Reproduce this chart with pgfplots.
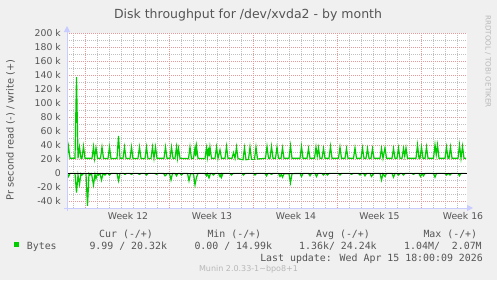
\documentclass[border=0pt]{standalone}
\usepackage{fontspec}
\setmainfont{DejaVu Sans}
\newfontfamily\mono{DejaVu Sans Mono}
\usepackage{pgfplots}
\pgfplotsset{compat=1.18}
\usetikzlibrary{arrows.meta}
\definecolor{bg}{HTML}{F0F0F0}
\definecolor{txt}{HTML}{555555}
\definecolor{grn}{HTML}{00CC00}
\definecolor{majg}{HTML}{E89898}
\definecolor{ming}{HTML}{C0C0C0}
\definecolor{axc}{HTML}{C8CCFF}
\definecolor{faint}{HTML}{B8B8B8}
\begin{document}
\begin{tikzpicture}[x=1bp,y=1bp]
\useasboundingbox (0,0) rectangle (497,280);
\fill[bg] (0,0) rectangle (497,280);
\begin{axis}[
  at={(67bp,72bp)}, anchor=south west, scale only axis,
  width=400bp, height=175bp,
  xmin=0, xmax=800, ymin=-50000, ymax=200000,
  axis line style={draw=none},
  axis background/.style={fill=white},
  tick style={draw=none},
  xtick={36,204,372,540,708}, xticklabels={},
  minor xtick={12,60,84,108,132,156,180,228,252,276,300,324,348,396,420,444,468,492,516,564,588,612,636,660,684,732,756,780},
  extra x ticks={122,290,458,625,792},
  extra x tick labels={Week 12,Week 13,Week 14,Week 15,Week 16},
  extra x tick style={grid=none, tick style={draw=none}},
  ytick={-40000,-20000,0,20000,40000,60000,80000,100000,120000,140000,160000,180000,200000},
  yticklabels={-40 k,-20 k,0,20 k,40 k,60 k,80 k,100 k,120 k,140 k,160 k,180 k,200 k},
  minor ytick={-30000,-10000,10000,30000,50000,70000,90000,110000,130000,150000,170000,190000},
  scaled y ticks=false,
  grid=both,
  major grid style={majg, line width=0.9bp, dash pattern=on 1bp off 1bp},
  minor grid style={ming, line width=0.9bp, dash pattern=on 1bp off 1bp},
  tick label style={font=\fontsize{9.3bp}{11bp}\selectfont, text=txt, inner sep=0pt},
  yticklabel style={anchor=east, xshift=-6bp},
  xticklabel style={anchor=north, yshift=-4.5bp},
]
\addplot[grn, line width=1.2bp] coordinates {
(0,21000)(3,38000)(6,21000)
(16,21000)(19,137000)(22,21000)(25,37000)(28,21000)
(30,21000)(33,38000)(36,21000)
(50,21000)(53,37000)(55,21000)(58,36000)(61,21000)
(67,21000)(70,37000)(73,21000)
(82,20500)(85,37000)(88,20500)
(100,21000)(103,53000)(106,21000)
(112,21000)(115,37000)(118,21000)
(126,20500)(129,37000)(132,20500)
(142,21000)(145,37000)(148,21000)
(156,20500)(159,37000)(162,20500)
(168,21000)(171,37000)(174,21000)(177,37000)(180,21000)
(194,21000)(197,37000)(200,21000)
(206,21000)(209,37000)(212,21000)
(216,21000)(219,37000)(221,22000)(223,35000)(226,21000)
(243,20500)(246,37000)(249,20500)
(253,21000)(256,36000)(257.5,24000)(259,38000)(262,21000)
(276,20500)(279,36000)(281,23000)(283,36000)(284.5,24000)(286,37000)(289,21000)
(296,21000)(299,37000)(302,21000)(306,33000)(309,21000)
(316,21000)(319,38000)(322,21000)
(330,21000)(333,29000)(336,21000)(339,37000)(342,20500)
(352,19000)(355,36000)(358,19000)
(363,19500)(366,37000)(369,19500)
(375,19500)(378,37000)(381,20000)
(397,21000)(400,38000)(403,21000)
(406,21000)(409,38000)(412,21000)
(417,21000)(420,37000)(423,21000)
(428,21000)(431,36000)(434,21000)
(444,21000)(447,39000)(450,21000)
(466,21000)(469,38000)(472,21000)
(480,21000)(483,35000)(486,21000)
(495,21000)(498,37000)(500.5,24000)(503,36000)(506,21000)
(510,21000)(513,35000)(516,21000)
(524,21000)(527,38000)(530,21000)
(543,21000)(546,37000)(549,21000)
(556,21000)(559,35000)(562,21000)
(573,21000)(576,36000)(579,21000)
(588,21000)(591,36000)(594,21000)
(598,21000)(601,35000)(604,21000)
(608,21000)(611,35000)(614,21000)
(626,21000)(629,35000)(632,21000)(636,36000)(639,21000)
(650,21000)(653,35000)(656,21000)
(660,21000)(663,36000)(666,21000)
(670,21000)(673,35000)(675.5,24000)(678,36000)(681,21000)
(698,21000)(701,40000)(704,21000)
(706,21000)(709,37000)(712,21000)
(716,21000)(719,37000)(722,21000)
(733,21000)(736,40000)(738.5,26000)(741,40000)(744,21000)
(756,21000)(759,37000)(762,21000)
(764,21000)(767,37000)(770,21000)
(782,21000)(785,40000)(788,21000)(791,38000)(794,21000)
(798,21000)
};
\addplot[grn, line width=1.2bp] coordinates {
(0,-500)(3,-5000)(6,-500)
(16,-500)(19,-28000)(22,-3000)(25,-16000)(28,-1000)(30,-3000)(33,-500)
(38,-500)(41,-47000)(44,-1000)(46,-3000)(49,-1000)(53,-17000)(56,-2000)(58,-8000)(61,-1000)(63,-3000)(66,-1000)(69,-10000)(72,-1000)(76,-3000)(79,-500)
(82,-500)(85,-3000)(88,-500)
(100,-500)(103,-11000)(106,-500)
(113,-500)(116,-2000)(119,-500)
(126,-500)(129,-2000)(132,-500)
(142,-500)(145,-2000)(148,-500)
(156,-500)(159,-3000)(162,-500)
(176,-500)(179,-2000)(182,-500)
(193,-500)(196,-4000)(198,-3000)(200,-500)
(205,-500)(208,-10000)(211,-500)
(216,-500)(219,-4000)(222,-500)
(226,-500)(229,-3000)(232,-500)
(241,-500)(244,-11000)(247,-1000)
(253,-1000)(256,-17000)(259,-6000)(262,-500)
(276,-500)(279,-4000)(281,-1000)(284,-7000)(287,-500)
(290,-500)(293,-3000)(296,-500)
(303,-500)(306,-5000)(308,-2000)(309,-6000)(312,-500)
(326,-500)(329,-3000)(332,-500)
(350,-500)(353,-3000)(356,-500)
(373,-500)(376,-3000)(379,-500)
(396,-500)(399,-4000)(402,-500)
(406,-500)(409,-2000)(412,-500)
(423,-500)(426,-5000)(428.5,-2000)(431,-6000)(434,-1000)
(444,-1000)(447,-14000)(450,-1000)
(466,-500)(469,-5000)(472,-500)
(483,-500)(486,-4000)(489,-500)
(496,-500)(499,-5000)(502,-500)
(510,-500)(513,-3000)(516,-500)
(518,-500)(521,-3000)(524,-500)
(543,-500)(546,-3000)(549,-500)
(566,-500)(569,-2000)(572,-500)
(583,-500)(586,-3000)(589,-500)
(593,-500)(596,-4000)(599,-500)
(606,-500)(609,-5000)(611,-3000)(614,-500)
(626,-500)(629,-10000)(632,-1000)(636,-5000)(639,-500)
(650,-500)(653,-6000)(656,-500)
(660,-500)(663,-3000)(666,-500)
(670,-500)(673,-3000)(676,-500)
(690,-500)(693,-2000)(696,-500)
(704,-500)(707,-5000)(710,-1000)(713,-4000)(716,-500)
(733,-500)(736,-6000)(739,-500)
(756,-500)(759,-3000)(762,-500)
(763,-500)(766,-3000)(769,-500)
(782,-500)(785,-4000)(788,-500)
(798,-500)
};
\addplot[black, line width=1bp] coordinates {(0,0)(800,0)};
\end{axis}
% axis lines with arrows
\draw[axc, line width=1bp, -{Triangle[length=6bp,width=6bp]}] (64,72) -- (473,72);
\draw[axc, line width=1bp, -{Triangle[length=6bp,width=6bp]}] (67,69) -- (67,254);
% title and labels
\node[anchor=base, inner sep=0pt, text=txt, font=\fontsize{12.5bp}{14bp}\selectfont] at (248,261.7) {Disk throughput for /dev/xvda2 - by month};
\node[rotate=90, inner sep=0pt, text=txt, font=\fontsize{9.8bp}{11bp}\selectfont] at (10.5,150) {Pr second read (-) / write (+)};
\node[rotate=-90, inner sep=0pt, text=faint, font=\fontsize{7.2bp}{8bp}\selectfont] at (488,218.5) {RRDTOOL / TOBI OETIKER};
% legend
\fill[grn] (14,33) rectangle (19,38);
\begin{scope}[every node/.style={inner sep=0pt, text=txt, font=\mono\fontsize{9.9bp}{12bp}\selectfont}]
\node[anchor=base west] at (26.7,31) {Bytes};
\node[anchor=base west] at (99,43) {Cur (-/+)};
\node[anchor=base west] at (207.3,43) {Min (-/+)};
\node[anchor=base west] at (316,43) {Avg (-/+)};
\node[anchor=base west] at (423.3,43) {Max (-/+)};
\node[anchor=base west] at (89.3,31) {9.99 / 20.32k};
\node[anchor=base west] at (194.3,31) {0.00 / 14.99k};
\node[anchor=base west] at (299,31) {1.36k/ 24.24k};
\node[anchor=base west] at (404,31) {1.04M/\ \ 2.07M};
\node[anchor=base east] at (483,18.8) {Last update: Wed Apr 15 18:00:09 2026};
\end{scope}
\node[anchor=base, inner sep=0pt, text=faint, font=\fontsize{8bp}{9bp}\selectfont] at (248.5,8.5) {Munin 2.0.33-1\textasciitilde bpo8+1};
\end{tikzpicture}
\end{document}
